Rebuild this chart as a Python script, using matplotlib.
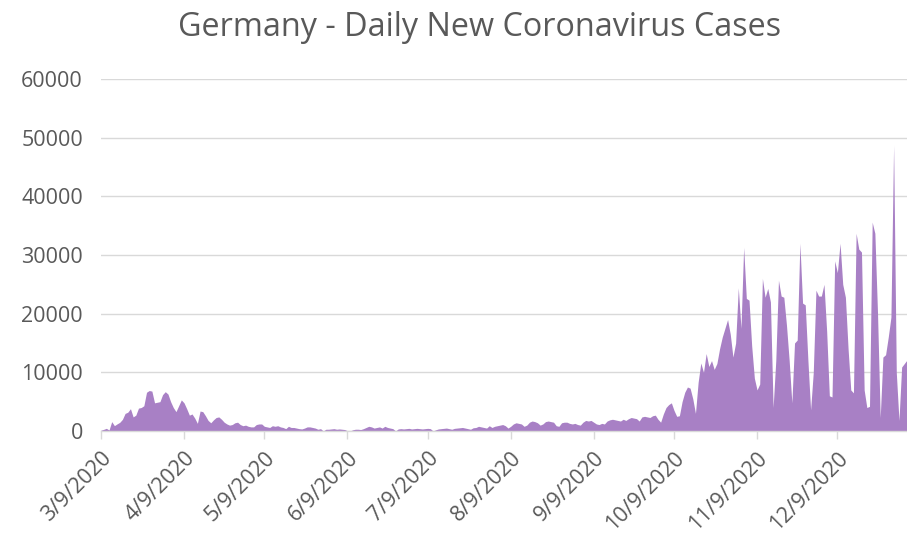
import matplotlib
matplotlib.use("Agg")
import matplotlib.pyplot as plt
import numpy as np
import pandas as pd

start_date = "2020-03-09"

mar_cases = [136, 281, 451, 170, 1597, 910, 1210, 1477, 1985, 3000, 3200, 3800, 2400, 2700,
             3900, 4000, 4300, 6600, 6900, 6800, 4800, 4900, 5000]
apr_cases = [6200, 6700, 6300, 5000, 4000, 3300, 4300, 5300, 4800, 3800, 2700, 2900, 2200, 1300,
             3400, 3300, 2600, 1800, 1400, 1900, 2300, 2400, 2000, 1500, 1200, 1000, 1100, 1400,
             1500, 1100]
may_cases = [900, 1000, 800, 700, 700, 1100, 1200, 1200, 800, 700, 600, 900, 800, 900, 700, 600,
             400, 800, 600, 600, 500, 400, 350, 500, 700, 700, 600, 500, 300, 400, 0]
jun_cases = [300, 300, 350, 400, 300, 350, 300, 250, 50, 0, 200, 300, 300, 250, 400, 600, 800,
             700, 500, 600, 700, 500, 800, 600, 500, 400, 0, 350, 400, 350]
jul_cases = [400, 450, 350, 400, 450, 400, 350, 400, 450, 400, 0, 200, 350, 400, 450, 500, 400,
             300, 450, 500, 550, 600, 500, 400, 300, 550, 600, 800, 700, 600, 500]
aug_cases = [900, 600, 800, 900, 1000, 1100, 900, 500, 800, 1200, 1400, 1300, 1200, 800, 1000,
             1500, 1700, 1600, 1400, 1000, 1200, 1600, 1700, 1600, 1500, 900, 800, 1400, 1500,
             1500, 1300]
sep_cases = [1200, 1300, 1100, 1000, 1500, 1800, 1700, 1800, 1500, 1200, 1100, 1300, 1200, 1700,
             1900, 2000, 1900, 1800, 1700, 2000, 1800, 2100, 2300, 2200, 2100, 1700, 2400, 2500,
             2400, 2300]
oct_cases = [2600, 2700, 2000, 1500, 2900, 4000, 4500, 4800, 3500, 2500, 2600, 5000, 6600, 7500,
             7300, 5500, 3000, 8300, 11600, 10000, 13200, 11000, 12000, 10500, 11500, 14000,
             16000, 17500, 19000, 16500, 12600]
nov_cases = [15000, 24400, 17500, 31300, 22600, 22300, 14500, 9000, 7000, 8000, 26000, 22800,
             24300, 22000, 4000, 12000, 25700, 23000, 22800, 18000, 12000, 4800, 15000, 15500,
             32000, 21800, 21500, 12000, 3600, 10000]
dec_cases = [24000, 23000, 23000, 25000, 17000, 6000, 5800, 29000, 27000, 32000, 25000, 22800,
             14000, 7000, 6500, 33700, 31000, 30500, 7000, 4000, 4200, 35600, 33700, 20000, 2300,
             12600, 13000, 16000, 19400, 48700, 10000]
jan_cases = [1800, 10900, 11500, 12100]

daily_cases = (mar_cases + apr_cases + may_cases + jun_cases + jul_cases + aug_cases
               + sep_cases + oct_cases + nov_cases + dec_cases + jan_cases)
dates = pd.date_range(start_date, periods=len(daily_cases), freq="D")

tick_dates = pd.to_datetime(["2020-03-09", "2020-04-09", "2020-05-09", "2020-06-09",
                             "2020-07-09", "2020-08-09", "2020-09-09", "2020-10-09",
                             "2020-11-09", "2020-12-09"])
tick_labels = ["3/9/2020", "4/9/2020", "5/9/2020", "6/9/2020", "7/9/2020", "8/9/2020",
               "9/9/2020", "10/9/2020", "11/9/2020", "12/9/2020"]
y_ticks = [0, 10000, 20000, 30000, 40000, 50000, 60000]

title = "Germany - Daily New Coronavirus Cases"

text_color = "#595959"
grid_color = "#d9d9d9"
fill_color = "#a880c5"
font = ["Open Sans", "DejaVu Sans"]

fig = plt.figure(figsize=(9.07, 5.34), dpi=100)
ax = fig.add_axes([101 / 907, 1 - 431 / 534, 1 - 101 / 907, (431 - 79) / 534])

ax.fill_between(dates, daily_cases, 0, color=fill_color, linewidth=0)

ax.set_xlim(dates[0], dates[-1])
ax.set_ylim(0, 60000)
ax.set_yticks(y_ticks)
ax.set_yticklabels([str(v) for v in y_ticks], fontfamily=font, fontsize=15.5, color=text_color)
ax.tick_params(axis="y", length=0, pad=13)

ax.set_xticks(tick_dates)
ax.set_xticklabels(tick_labels, rotation=45, ha="right", rotation_mode="anchor",
                   fontfamily=font, fontsize=15.5, color=text_color)
ax.tick_params(axis="x", length=6, color=grid_color, width=1, pad=6)

ax.grid(axis="y", color=grid_color, linewidth=1)
ax.set_axisbelow(True)
for side in ["left", "right", "top"]:
    ax.spines[side].set_visible(False)
ax.spines["bottom"].set_color(grid_color)
ax.spines["bottom"].set_linewidth(1)

fig.text(479.5 / 907, 1 - 27 / 534, title, ha="center", va="center", fontfamily=font,
         fontsize=23.3, color=text_color)

fig.savefig("out.png", dpi=100)
